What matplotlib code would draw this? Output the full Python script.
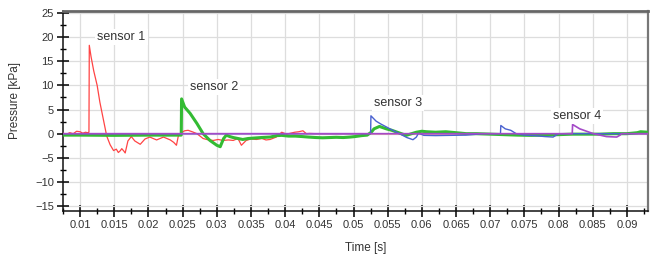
import numpy as np
import matplotlib
matplotlib.use("Agg")
import matplotlib.pyplot as plt
from matplotlib.ticker import MultipleLocator

plt.rcParams['font.family'] = ['Liberation Sans', 'DejaVu Sans']

# data ------------------------------------------------------------------------
s1_t = [0.0075, 0.0080, 0.0085, 0.0090, 0.0095, 0.0100, 0.0104, 0.0108, 0.0111,
        0.0113, 0.01135, 0.0116, 0.0120, 0.0125, 0.0129, 0.0134,
        0.0139, 0.0144, 0.0149, 0.0153, 0.0156, 0.0159, 0.0161, 0.0164, 0.0166,
        0.0170, 0.0175, 0.0180, 0.0188, 0.0195, 0.0202, 0.0207, 0.0212, 0.0217,
        0.0222, 0.0227, 0.0232, 0.0237, 0.0241, 0.0244, 0.0248, 0.0253, 0.0258,
        0.0264, 0.0271, 0.0280, 0.0288, 0.0295, 0.0302, 0.0309, 0.0317, 0.0324,
        0.0331, 0.0336, 0.0343, 0.0350, 0.0358, 0.0366, 0.0372, 0.0378, 0.0387,
        0.0395, 0.0402, 0.0408, 0.0414, 0.0420, 0.0426, 0.0431, 0.0436, 0.0445,
        0.0935]
s1_p = [0.1, -0.1, 0.2, 0.0, 0.5, 0.4, 0.1, 0.3, 0.2,
        0.3, 18.3, 16.0, 13.0, 10.0, 6.5, 3.0,
        -0.5, -2.3, -3.5, -3.2, -3.9, -3.5, -3.1, -3.6, -4.0,
        -1.5, -0.6, -1.5, -2.2, -1.1, -0.7, -1.0, -1.3, -1.0,
        -0.7, -1.0, -1.3, -1.8, -2.4, -0.3, 0.2, 0.6, 0.7,
        0.4, 0.0, -1.0, -1.3, -1.4, -1.2, -1.4, -1.3, -1.4,
        -1.0, -2.4, -1.4, -1.1, -1.2, -1.0, -1.3, -1.2, -0.7,
        0.3, -0.1, 0.1, 0.3, 0.4, 0.6, 0.0, 0.05, 0.0,
        0.0]

s2_t = [0.0075, 0.0100, 0.0150, 0.0200, 0.0248, 0.02485, 0.0253, 0.0261, 0.0271,
        0.0280, 0.0290, 0.0300, 0.0305, 0.0310, 0.0314, 0.0319, 0.0324, 0.0331,
        0.0338, 0.0346, 0.0355, 0.0365, 0.0378, 0.0388, 0.0395, 0.0405, 0.0415,
        0.0425, 0.0434, 0.0445, 0.0455, 0.0465, 0.0475, 0.0485, 0.0495, 0.0502,
        0.0512, 0.0520, 0.0526, 0.0530, 0.0538, 0.0548, 0.0556, 0.0563, 0.0570,
        0.0577, 0.0585, 0.0592, 0.0600, 0.0607, 0.0620, 0.0635, 0.0650, 0.0665,
        0.0680, 0.0700, 0.0720, 0.0740, 0.0760, 0.0780, 0.0800, 0.0820, 0.0840,
        0.0860, 0.0880, 0.0900, 0.0915, 0.0920, 0.0930, 0.0935]
s2_p = [-0.3, -0.3, -0.35, -0.3, -0.3, 7.2, 5.5, 4.2, 2.1,
        0.0, -1.4, -2.4, -2.7, -1.0, -0.3, -0.6, -0.8, -1.0,
        -1.2, -1.0, -0.9, -0.8, -0.7, -0.4, -0.35, -0.5, -0.5,
        -0.6, -0.7, -0.8, -0.85, -0.8, -0.75, -0.8, -0.7, -0.6,
        -0.4, -0.3, 0.3, 1.0, 1.5, 1.0, 0.7, 0.35, 0.0,
        -0.35, 0.0, 0.3, 0.5, 0.4, 0.3, 0.4, 0.2, 0.0,
        0.0, -0.1, -0.2, -0.3, -0.35, -0.3, -0.2, -0.1, -0.1,
        -0.1, 0.0, 0.0, 0.2, 0.4, 0.3, 0.2]

s3_t = [0.0075, 0.0525, 0.05255, 0.0533, 0.0540, 0.0548, 0.0556, 0.0563, 0.0570,
        0.0578, 0.0587, 0.0592, 0.0595, 0.0603, 0.0620, 0.0640, 0.0664, 0.0690,
        0.0715, 0.07155, 0.0722, 0.0730, 0.0738, 0.0750, 0.0765, 0.0780, 0.0792,
        0.0800, 0.0820, 0.0935]
s3_p = [0.0, 0.0, 3.7, 2.6, 2.0, 1.4, 0.8, 0.3, -0.2,
        -0.8, -1.25, -0.7, 0.1, -0.35, -0.4, -0.35, -0.3, 0.0,
        0.0, 1.7, 1.0, 0.7, 0.0, -0.3, -0.4, -0.6, -0.7,
        0.0, 0.0, 0.0]

s4_t = [0.0075, 0.0820, 0.08205, 0.0831, 0.0851, 0.0870, 0.0885, 0.0890, 0.0892, 0.0935]
s4_p = [0.0, 0.0, 1.9, 1.0, 0.0, -0.6, -0.7, -0.3, 0.0, 0.0]

labels = ['sensor 1', 'sensor 2', 'sensor 3', 'sensor 4']
label_t = [0.0125, 0.0261, 0.0530, 0.0792]
label_p = [20.0, 9.6, 6.4, 3.7]

x_ticks = [0.01, 0.015, 0.02, 0.025, 0.03, 0.035, 0.04, 0.045, 0.05,
           0.055, 0.06, 0.065, 0.07, 0.075, 0.08, 0.085, 0.09]
x_tick_labels = ['0.01', '0.015', '0.02', '0.025', '0.03', '0.035', '0.04',
                 '0.045', '0.05', '0.055', '0.06', '0.065', '0.07', '0.075',
                 '0.08', '0.085', '0.09']
y_ticks = [-15, -10, -5, 0, 5, 10, 15, 20, 25]


def main():
    fig = plt.figure(figsize=(6.56, 2.56), dpi=100)
    ax = fig.add_axes([0.096, 0.176, 0.892, 0.781])

    # series
    ax.plot(s1_t, s1_p, color='#ff4444', lw=0.9, zorder=3)
    ax.plot(s2_t, s2_p, color='#33bb33', lw=2.2, zorder=3)
    ax.plot(s3_t, s3_p, color='#4a62d0', lw=1.0, zorder=3)
    ax.plot(s4_t, s4_p, color='#a44ac8', lw=1.2, zorder=3)

    # annotations
    for lab, t, p in zip(labels, label_t, label_p):
        ax.text(t, p, lab, ha='left', va='center', fontsize=9, color='#333333',
                zorder=5, bbox=dict(facecolor='white', edgecolor='none', pad=1.5))

    # axes
    ax.set_xlim(0.0075, 0.0931)
    ax.set_ylim(-16.0, 25.4)
    ax.set_xticks(x_ticks)
    ax.set_xticklabels(x_tick_labels)
    ax.set_yticks(y_ticks)
    ax.xaxis.set_minor_locator(MultipleLocator(0.0025))
    ax.yaxis.set_minor_locator(MultipleLocator(2.5))
    ax.tick_params(which='major', direction='inout', length=9, width=1.1,
                   labelsize=8, labelcolor='#333333', pad=2)
    ax.tick_params(which='minor', direction='inout', length=5, width=1.0)
    ax.grid(True, which='major', color='#dddddd', lw=0.9, zorder=0)
    ax.set_axisbelow(True)

    for side in ['left', 'bottom']:
        ax.spines[side].set_color('#111111')
        ax.spines[side].set_linewidth(1.1)
    ax.spines['top'].set_color('#666666')
    ax.spines['top'].set_linewidth(2.0)
    ax.spines['right'].set_color('#777777')
    ax.spines['right'].set_linewidth(1.6)

    ax.set_xlabel('Time [s]', fontsize=8.5, color='#333333')
    ax.set_ylabel('Pressure [kPa]', fontsize=8.5, color='#333333')
    ax.xaxis.set_label_coords(0.518, -0.155)
    ax.yaxis.set_label_coords(-0.072, 0.55)

    fig.savefig('out.png', dpi=100)


if __name__ == "__main__":
    main()
